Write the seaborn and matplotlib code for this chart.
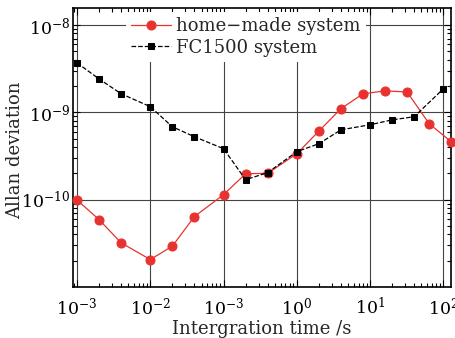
import matplotlib
matplotlib.use("Agg")
import matplotlib.pyplot as plt
import seaborn as sns
import numpy as np
import pandas as pd
from matplotlib.ticker import LogLocator, NullFormatter, FixedLocator, FixedFormatter

# Data
home_tau = [0.001, 0.002, 0.004, 0.01, 0.02, 0.04, 0.1, 0.2, 0.4, 1, 2, 4, 8, 16, 32, 64, 128]
home_adev = [9.9e-11, 5.9e-11, 3.2e-11, 2.06e-11, 2.93e-11, 6.4e-11, 1.14e-10, 1.98e-10,
             2.0e-10, 3.36e-10, 6.1e-10, 1.1e-9, 1.63e-9, 1.76e-9, 1.71e-9, 7.4e-10, 4.6e-10]
fc_tau = [0.001, 0.002, 0.004, 0.01, 0.02, 0.04, 0.1, 0.2, 0.4, 1, 2, 4, 10, 20, 40, 100]
fc_adev = [3.68e-9, 2.41e-9, 1.63e-9, 1.16e-9, 6.83e-10, 5.25e-10, 3.83e-10, 1.69e-10,
           2.04e-10, 3.54e-10, 4.37e-10, 6.3e-10, 7.2e-10, 8.2e-10, 8.9e-10, 1.86e-9]
series_names = ["home\u2212made system", "FC1500 system"]
xtick_vals = [1e-3, 1e-2, 1e-1, 1e0, 1e1, 1e2]
xtick_labels = ["$10^{-3}$", "$10^{-2}$", "$10^{-3}$", "$10^{0}$", "$10^{1}$", "$10^{2}$"]
ytick_vals = [1e-10, 1e-9, 1e-8]
ytick_labels = ["$10^{-10}$", "$10^{-9}$", "$10^{-8}$"]

sns.set_style("ticks")
plt.rcParams["font.family"] = ["DejaVu Serif"]
plt.rcParams["mathtext.fontset"] = "dejavuserif"

fig = plt.figure(figsize=(4.56, 3.38), dpi=100)
ax = fig.add_axes([0.160, 0.151, 0.829, 0.825])

df_home = pd.DataFrame({"tau": home_tau, "adev": home_adev})
df_fc = pd.DataFrame({"tau": fc_tau, "adev": fc_adev})

sns.lineplot(data=df_home, x="tau", y="adev", ax=ax, color="#e8322f", marker="o",
             markersize=6.5, markeredgecolor="#e8322f", linewidth=0.9,
             label=series_names[0], clip_on=False, zorder=3)
sns.lineplot(data=df_fc, x="tau", y="adev", ax=ax, color="black", marker="s",
             markersize=5, markeredgecolor="black", linewidth=0.9, linestyle="--",
             label=series_names[1], clip_on=False, zorder=4)

ax.set_xscale("log")
ax.set_yscale("log")
ax.set_xlim(8.8e-4, 127)
ax.set_ylim(1.0e-11, 1.56e-8)

ax.xaxis.set_major_locator(FixedLocator(xtick_vals))
ax.xaxis.set_major_formatter(FixedFormatter(xtick_labels))
ax.xaxis.set_minor_locator(LogLocator(base=10, subs=np.arange(2, 10), numticks=20))
ax.xaxis.set_minor_formatter(NullFormatter())
ax.yaxis.set_major_locator(FixedLocator(ytick_vals))
ax.yaxis.set_major_formatter(FixedFormatter(ytick_labels))
ax.yaxis.set_minor_locator(LogLocator(base=10, subs=np.arange(2, 10), numticks=20))
ax.yaxis.set_minor_formatter(NullFormatter())

ax.tick_params(which="both", direction="in", top=True, right=True, width=0.8, colors="black")
ax.tick_params(which="major", length=5, labelsize=12.5)
ax.tick_params(axis="x", which="major", pad=7)
ax.tick_params(axis="y", which="major", pad=2)
ax.tick_params(which="minor", length=3)

ax.grid(True, which="major", color="#444444", linewidth=0.8)
ax.set_axisbelow(True)
for s in ax.spines.values():
    s.set_linewidth(1.2)
    s.set_color("black")

ax.set_xlabel("Intergration time /s", fontsize=13, labelpad=1)
ax.set_ylabel("Allan deviation", fontsize=13)
ax.yaxis.set_label_coords(-0.128, 0.49)

leg = ax.legend(loc="upper left", bbox_to_anchor=(0.13, 1.0), borderaxespad=0.2,
                frameon=True, fancybox=False, edgecolor="none", facecolor="white",
                framealpha=1, fontsize=13, handlelength=2.2, handletextpad=0.3,
                borderpad=0.3, labelspacing=0.2)

fig.savefig("out.png", dpi=100)
